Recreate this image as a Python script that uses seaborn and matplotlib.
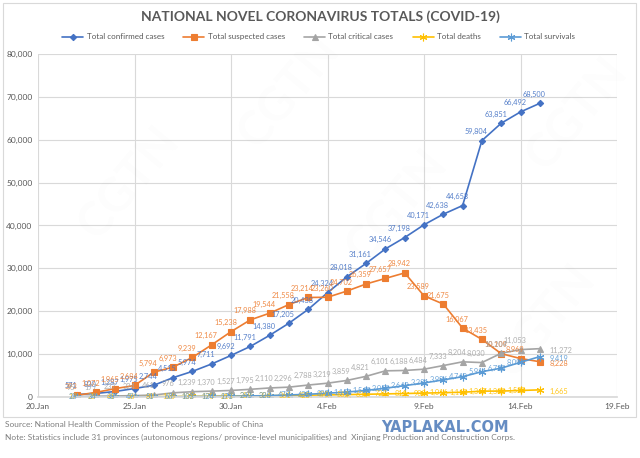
"""
national novel coronavirus totals (covid-19), cgtn style excel chart
"""
import numpy as np
import pandas as pd
import matplotlib as mpl
mpl.use('Agg')
from matplotlib import pyplot as plt
import seaborn as sns

dates = pd.date_range('2020-01-22', '2020-02-15', freq='D')

confirmed = [571, 830, 1287, 1975, 2744, 4515, 5974, 7711, 9692, 11791, 14380, 17205, 20438,
             24324, 28018, 31161, 34546, 37198, 40171, 42638, 44653, 59804, 63851, 66492, 68500]
suspected = [393, 1072, 1965, 2684, 5794, 6973, 9239, 12167, 15238, 17988, 19544, 21558, 23214,
             23260, 24702, 26359, 27657, 28942, 23589, 21675, 16067, 13435, 10109, 8969, 8228]
critical = [95, 177, 237, 324, 461, 976, 1239, 1370, 1527, 1795, 2110, 2296, 2788,
            3219, 3859, 4821, 6101, 6188, 6484, 7333, 8204, 8030, 10204, 11053, 11272]
deaths = [17, 25, 41, 56, 80, 106, 132, 170, 213, 259, 304, 361, 425,
          490, 563, 636, 722, 811, 908, 1016, 1113, 1367, 1380, 1523, 1665]
survivals = [28, 34, 38, 49, 51, 60, 103, 124, 171, 243, 328, 475, 632,
             892, 1153, 1540, 2050, 2649, 3281, 3996, 4740, 5911, 6723, 8096, 9419]

series_names = ['Total confirmed cases', 'Total suspected cases', 'Total critical cases',
                'Total deaths', 'Total survivals']
tick_dates = pd.to_datetime(['2020-01-20', '2020-01-25', '2020-01-30', '2020-02-04',
                             '2020-02-09', '2020-02-14', '2020-02-19'])
tick_labels = ['20.Jan', '25.Jan', '30.Jan', '4.Feb', '9.Feb', '14.Feb', '19.Feb']

sns.set_theme(style='white')
plt.rcParams['font.family'] = ['Lato', 'DejaVu Sans']

colors = ['#4472C4', '#ED7D31', '#A5A5A5', '#FFC000', '#5B9BD5']
markers = ['D', 's', '^', (6, 2, 0), (6, 2, 0)]
msizes = [3.2, 4, 4, 5.5, 5.5]

fig = plt.figure(figsize=(6.4, 4.58), dpi=100)
ax = fig.add_axes([38 / 640, 1 - 397 / 458, (617 - 38) / 640, (397 - 54) / 458])

all_series = [confirmed, suspected, critical, deaths, survivals]
for vals, name, c, m, ms in zip(all_series, series_names, colors, markers, msizes):
    sns.lineplot(x=dates, y=vals, ax=ax, color=c, marker=m, markersize=ms, lw=1.2,
                 markeredgecolor=c, markeredgewidth=0.8, label=name)

# data labels (deaths / survivals sit on the line like in the excel original)
for i, (vals, c) in enumerate(zip(all_series, colors)):
    for j, (d, v) in enumerate(zip(dates, vals)):
        if j == len(vals) - 1 and i > 0:
            ax.annotate(f'{v:,}', (d, v), xytext=(7, -1), textcoords='offset points',
                        ha='left', va='center', fontsize=5.3, color=c, alpha=0.9)
        elif i >= 3:
            ax.annotate(f'{v:,}', (d, v), xytext=(-3, 0), textcoords='offset points',
                        ha='center', va='center', fontsize=5.3, color=c, alpha=0.9)
        else:
            ax.annotate(f'{v:,}', (d, v), xytext=(-4, 4), textcoords='offset points',
                        ha='center', va='bottom', fontsize=5.3, color=c, alpha=0.9)

ax.set_xlim(tick_dates[0], tick_dates[-1])
ax.set_ylim(0, 80000)
ax.set_yticks(np.arange(0, 80001, 10000))
ax.set_yticklabels([f'{v:,}' for v in range(0, 80001, 10000)])
ax.set_xticks(tick_dates)
ax.set_xticklabels(tick_labels)
ax.tick_params(axis='both', labelsize=6, colors='#595959', length=0, pad=4)
ax.grid(True, color='#D9D9D9', lw=0.8)
for s in ['top', 'right', 'left']:
    ax.spines[s].set_visible(False)
ax.spines['bottom'].set_color('#D9D9D9')
ax.set_xlabel('')
ax.set_ylabel('')

ax.legend(loc='center', bbox_to_anchor=(0.485, 1.05), ncol=5, frameon=False,
          fontsize=5.8, handlelength=2.6, columnspacing=2.4, handletextpad=0.4,
          labelcolor='#595959')

fig.text(0.5, 1 - 17 / 458, 'NATIONAL NOVEL CORONAVIRUS TOTALS (COVID-19)', ha='center',
         va='center', fontsize=10, fontweight='bold', color='#595959')

# faint watermarks
for (wx, wy) in [(0.2, 0.6), (0.45, 0.8), (0.62, 0.55), (0.9, 0.75), (0.85, 0.3)]:
    fig.text(wx, wy, 'CGTN', fontsize=34, fontweight='bold', color='#000000', alpha=0.012,
             rotation=50, ha='center', va='center')

fig.text(5 / 640, 1 - 425 / 458, "Source: National Health Commission of the People's Republic of China",
         fontsize=6, color='#7F7F7F', va='center')
fig.text(5 / 640, 1 - 437 / 458,
         'Note: Statistics include 31 provinces (autonomous regions/ province-level municipalities) and  Xinjiang Production and Construction Corps.',
         fontsize=6, color='#7F7F7F', va='center')
fig.text(445 / 640, 1 - 428 / 458, 'YAPLAKAL.COM', fontsize=10.5, fontweight='bold',
         family='DejaVu Sans', color='#4A78B8', ha='center', va='center', alpha=0.85)

# outer chart border
fig.patches.append(mpl.patches.Rectangle((3 / 640, 1 - 417 / 458), 633 / 640, 414 / 458,
                                         transform=fig.transFigure, fill=False,
                                         edgecolor='#D9D9D9', lw=0.8))

fig.savefig('out.png', dpi=100)
